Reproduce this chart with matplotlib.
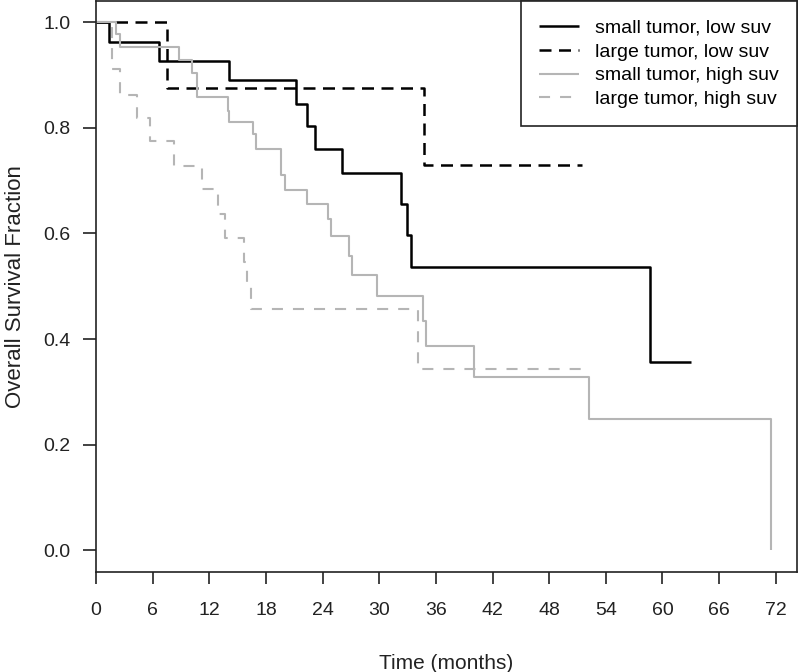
import matplotlib
matplotlib.use("Agg")
import matplotlib.pyplot as plt

plt.rcParams['font.family'] = ['Liberation Sans', 'DejaVu Sans']

# ================= DATA =================
# small tumor, low suv
t_small_low = [0, 1.38, 6.67, 14.09, 21.15, 22.32, 23.2, 26.03, 32.28, 32.91, 33.34, 58.69, 63.0]
s_small_low = [1.0, 0.963, 0.926, 0.890, 0.845, 0.803, 0.759, 0.715, 0.655, 0.597, 0.537, 0.356, 0.356]

# large tumor, low suv
t_large_low = [0, 7.49, 34.78, 51.5]
s_large_low = [1.0, 0.875, 0.730, 0.730]

# small tumor, high suv
t_small_high = [0, 2.09, 2.54, 8.79, 10.2, 10.67, 14.0, 14.1, 16.66, 16.92, 19.57, 20.02,
                22.4, 24.6, 24.84, 26.83, 27.07, 29.73, 34.67, 34.93, 40.06, 52.26, 71.54, 71.54]
s_small_high = [1.0, 0.977, 0.953, 0.928, 0.904, 0.858, 0.832, 0.810, 0.788, 0.759, 0.711, 0.682,
                0.655, 0.627, 0.595, 0.558, 0.522, 0.482, 0.435, 0.386, 0.329, 0.248, 0.0, 0.0]

# large tumor, high suv
t_large_high = [0, 1.73, 2.54, 4.31, 5.72, 8.29, 11.2, 12.96, 13.67, 15.68, 16.03, 16.42, 34.14, 52.26]
s_large_high = [1.0, 0.911, 0.862, 0.818, 0.775, 0.728, 0.684, 0.636, 0.591, 0.545, 0.5, 0.456, 0.343, 0.343]

labels = ["small tumor, low suv", "large tumor, low suv",
          "small tumor, high suv", "large tumor, high suv"]
x_ticks = list(range(0, 73, 6))
y_ticks = [0.0, 0.2, 0.4, 0.6, 0.8, 1.0]

# ================= PLOT =================
fig = plt.figure(figsize=(8, 6.72), dpi=100)
ax = fig.add_axes([96 / 800, 100 / 672, 701 / 800, 571 / 672])

gray = "#b5b5b5"
ax.step(t_small_low, s_small_low, where="post", color="black", lw=1.8,
        solid_capstyle="butt", label=labels[0])
ax.step(t_large_low, s_large_low, where="post", color="black", lw=1.8,
        ls=(0, (4.8, 3.0)), label=labels[1])
ax.step(t_small_high, s_small_high, where="post", color=gray, lw=1.5,
        solid_capstyle="butt", label=labels[2])
ax.step(t_large_high, s_large_high, where="post", color=gray, lw=1.5,
        ls=(0, (5.3, 4.8)), label=labels[3])

ax.set_xlim(0, 74.25)
ax.set_ylim(-0.041, 1.04)
ax.set_xticks(x_ticks)
ax.set_xticklabels([str(v) for v in x_ticks])
ax.set_yticks(y_ticks)
ax.set_yticklabels([f"{v:.1f}" for v in y_ticks])

ax.tick_params(axis="x", length=8.4, width=1.2, pad=13.5, labelsize=14, colors="#222222")
ax.tick_params(axis="y", length=9.1, width=1.2, pad=9, labelsize=14, colors="#222222")
for sp in ax.spines.values():
    sp.set_linewidth(1.2)
    sp.set_color("#222222")

ax.set_xlabel("Time (months)", fontsize=15, labelpad=25, color="#222222")
ax.set_ylabel("Overall Survival Fraction", fontsize=16, labelpad=13, color="#222222")

leg = ax.legend(loc="upper right", bbox_to_anchor=(1.0, 1.0), borderaxespad=0,
                fontsize=14, fancybox=False, framealpha=1, edgecolor="#222222",
                handlelength=2.06, handletextpad=0.85, labelspacing=0.32, borderpad=0.93)
leg.get_frame().set_linewidth(1.2)

plt.savefig("out.png", dpi=100)
